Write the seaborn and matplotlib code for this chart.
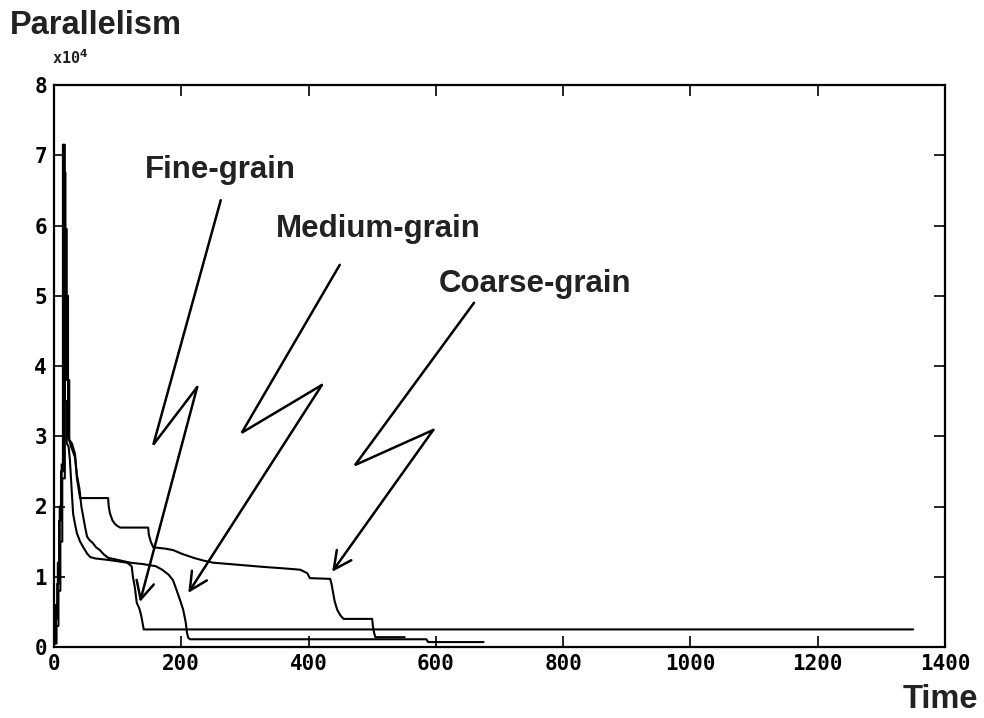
import numpy as np
import pandas as pd
import matplotlib
matplotlib.use("Agg")
import matplotlib.pyplot as plt
from matplotlib.ticker import FuncFormatter
import seaborn as sns

# ---------------- data (parallelism in units of 1e4) ----------------
fine_t = [0, 2, 2, 5, 5, 8, 8, 11, 11, 14, 14, 17, 17, 20, 20, 23, 25, 28, 30, 33, 36, 41, 46,
          52, 57, 65, 75, 85, 100, 115, 122, 124, 127, 130, 134, 137, 140, 141, 1350]
fine_y = [0.05, 0.05, 0.4, 0.4, 0.9, 0.9, 1.8, 1.8, 2.5, 2.5, 7.15, 7.15, 3.5, 3.5, 2.9, 2.85,
          2.66, 2.2, 1.9, 1.75, 1.62, 1.5, 1.42, 1.33, 1.28, 1.26, 1.25, 1.24, 1.22, 1.2, 1.15,
          1.0, 0.85, 0.63, 0.55, 0.45, 0.3, 0.25, 0.25]

medium_t = [0, 3, 3, 6, 6, 9, 9, 12, 12, 15, 15, 18, 18, 22, 22, 27, 33, 36, 40, 43, 46, 49, 52,
            56, 61, 66, 72, 78, 85, 100, 120, 140, 160, 170, 180, 187, 193, 198, 203, 207, 209,
            211, 214, 585, 588, 675]
medium_y = [0.1, 0.1, 0.6, 0.6, 1.2, 1.2, 2.0, 2.0, 2.6, 2.6, 6.75, 6.75, 5.0, 5.0, 3.0, 2.85,
            2.7, 2.45, 2.25, 2.0, 1.85, 1.7, 1.57, 1.52, 1.48, 1.42, 1.38, 1.32, 1.27, 1.24, 1.2,
            1.18, 1.15, 1.1, 1.03, 0.95, 0.8, 0.67, 0.53, 0.35, 0.2, 0.13, 0.11, 0.11, 0.07, 0.07]

coarse_t = [0, 4, 4, 7, 7, 10, 10, 13, 13, 17, 17, 20, 20, 24, 24, 28, 33, 36, 41, 85, 86, 88,
            92, 96, 100, 104, 148, 149, 152, 156, 165, 175, 187, 200, 219, 235, 250, 290, 329,
            360, 387, 398, 402, 434, 436, 438, 441, 445, 450, 455, 500, 501, 503, 505, 551]
coarse_y = [0.05, 0.05, 0.3, 0.3, 0.8, 0.8, 1.5, 1.5, 2.4, 2.4, 5.95, 5.95, 3.8, 3.8, 2.95, 2.9,
            2.75, 2.4, 2.12, 2.12, 2.0, 1.9, 1.8, 1.75, 1.72, 1.7, 1.7, 1.6, 1.5, 1.42, 1.41, 1.4,
            1.38, 1.33, 1.27, 1.23, 1.2, 1.17, 1.14, 1.12, 1.1, 1.05, 0.98, 0.97, 0.9, 0.8, 0.65,
            0.53, 0.45, 0.4, 0.4, 0.3, 0.2, 0.14, 0.14]

SCALE = 1e4
series_names = ["Fine-grain", "Medium-grain", "Coarse-grain"]

# annotation label positions and zig-zag arrow vertices (data coordinates: time, parallelism/1e4)
label_pos = {"Fine-grain": (262, 6.79), "Medium-grain": (509, 5.95), "Coarse-grain": (756, 5.17)}
arrow_path = {
    "Fine-grain": [(262, 6.36), (156, 2.88), (225, 3.70), (135, 0.64)],
    "Medium-grain": [(449, 5.44), (295, 3.05), (421, 3.73), (211, 0.77)],
    "Coarse-grain": [(660, 4.90), (473, 2.59), (596, 3.09), (437, 1.07)],
}

xticks = [0, 200, 400, 600, 800, 1000, 1200, 1400]
yticks = [0, 1, 2, 3, 4, 5, 6, 7, 8]

# ---------------- build frame ----------------
frames = []
for name, t, y in zip(series_names, [fine_t, medium_t, coarse_t], [fine_y, medium_y, coarse_y]):
    frames.append(pd.DataFrame({"Time": t, "Parallelism": np.array(y) * SCALE,
                                "grain": name}))
df = pd.concat(frames, ignore_index=True)

# ---------------- plot ----------------
sns.set_style("ticks")
plt.rcParams["font.family"] = ["DejaVu Sans"]

fig = plt.figure(figsize=(9.84, 7.18), dpi=100)
ax = fig.add_axes([54 / 984, 1 - 647 / 718, (945 - 54) / 984, (647 - 85) / 718])

sns.lineplot(data=df, x="Time", y="Parallelism", hue="grain", units="grain",
             estimator=None, sort=False, palette=["black"] * 3, linewidth=1.5,
             legend=False, ax=ax)

ax.set_xlim(0, 1400)
ax.set_ylim(0, 8 * SCALE)
ax.set_xticks(xticks)
ax.set_yticks([v * SCALE for v in yticks])
ax.yaxis.set_major_formatter(FuncFormatter(lambda v, p: f"{v / SCALE:g}"))
ax.set_xlabel("")
ax.set_ylabel("")

for s in ax.spines.values():
    s.set_visible(True)
    s.set_linewidth(1.6)
    s.set_color("black")

ax.tick_params(direction="in", length=8, width=1.2, top=True, right=True,
               labelsize=15, pad=5, colors="black")
for lab in ax.get_xticklabels() + ax.get_yticklabels():
    lab.set_family("DejaVu Sans Mono")
    lab.set_fontweight("bold")

# scale factor label
fig.text(52 / 984, 1 - 58 / 718, r"x10$^{\mathbf{4}}$", ha="left", va="center",
         fontsize=11, fontweight="bold", family="DejaVu Sans Mono", color="#222222")

# annotations
for name in series_names:
    lx, ly = label_pos[name]
    ax.text(lx, ly * SCALE, name, ha="center", va="center", fontsize=22.5,
            fontweight="bold", family="Liberation Sans", color="#222222")
    pts = arrow_path[name]
    xs = [p[0] for p in pts[:-1]]
    ys = [p[1] * SCALE for p in pts[:-1]]
    ax.plot(xs, ys, color="black", lw=1.8, solid_capstyle="round", solid_joinstyle="miter")
    ax.annotate("", xy=(pts[-1][0], pts[-1][1] * SCALE), xytext=(pts[-2][0], pts[-2][1] * SCALE),
                arrowprops=dict(arrowstyle="->", lw=1.8, color="black",
                                mutation_scale=32, shrinkA=0, shrinkB=0))

fig.text(10 / 984, 1 - 26 / 718, "Parallelism", ha="left", va="center",
         fontsize=23.5, fontweight="bold", family="Liberation Sans", color="#222222")
fig.text(978 / 984, 1 - 700 / 718, "Time", ha="right", va="center",
         fontsize=23.5, fontweight="bold", family="Liberation Sans", color="#222222")

fig.savefig("out.png", dpi=100, facecolor="white")
